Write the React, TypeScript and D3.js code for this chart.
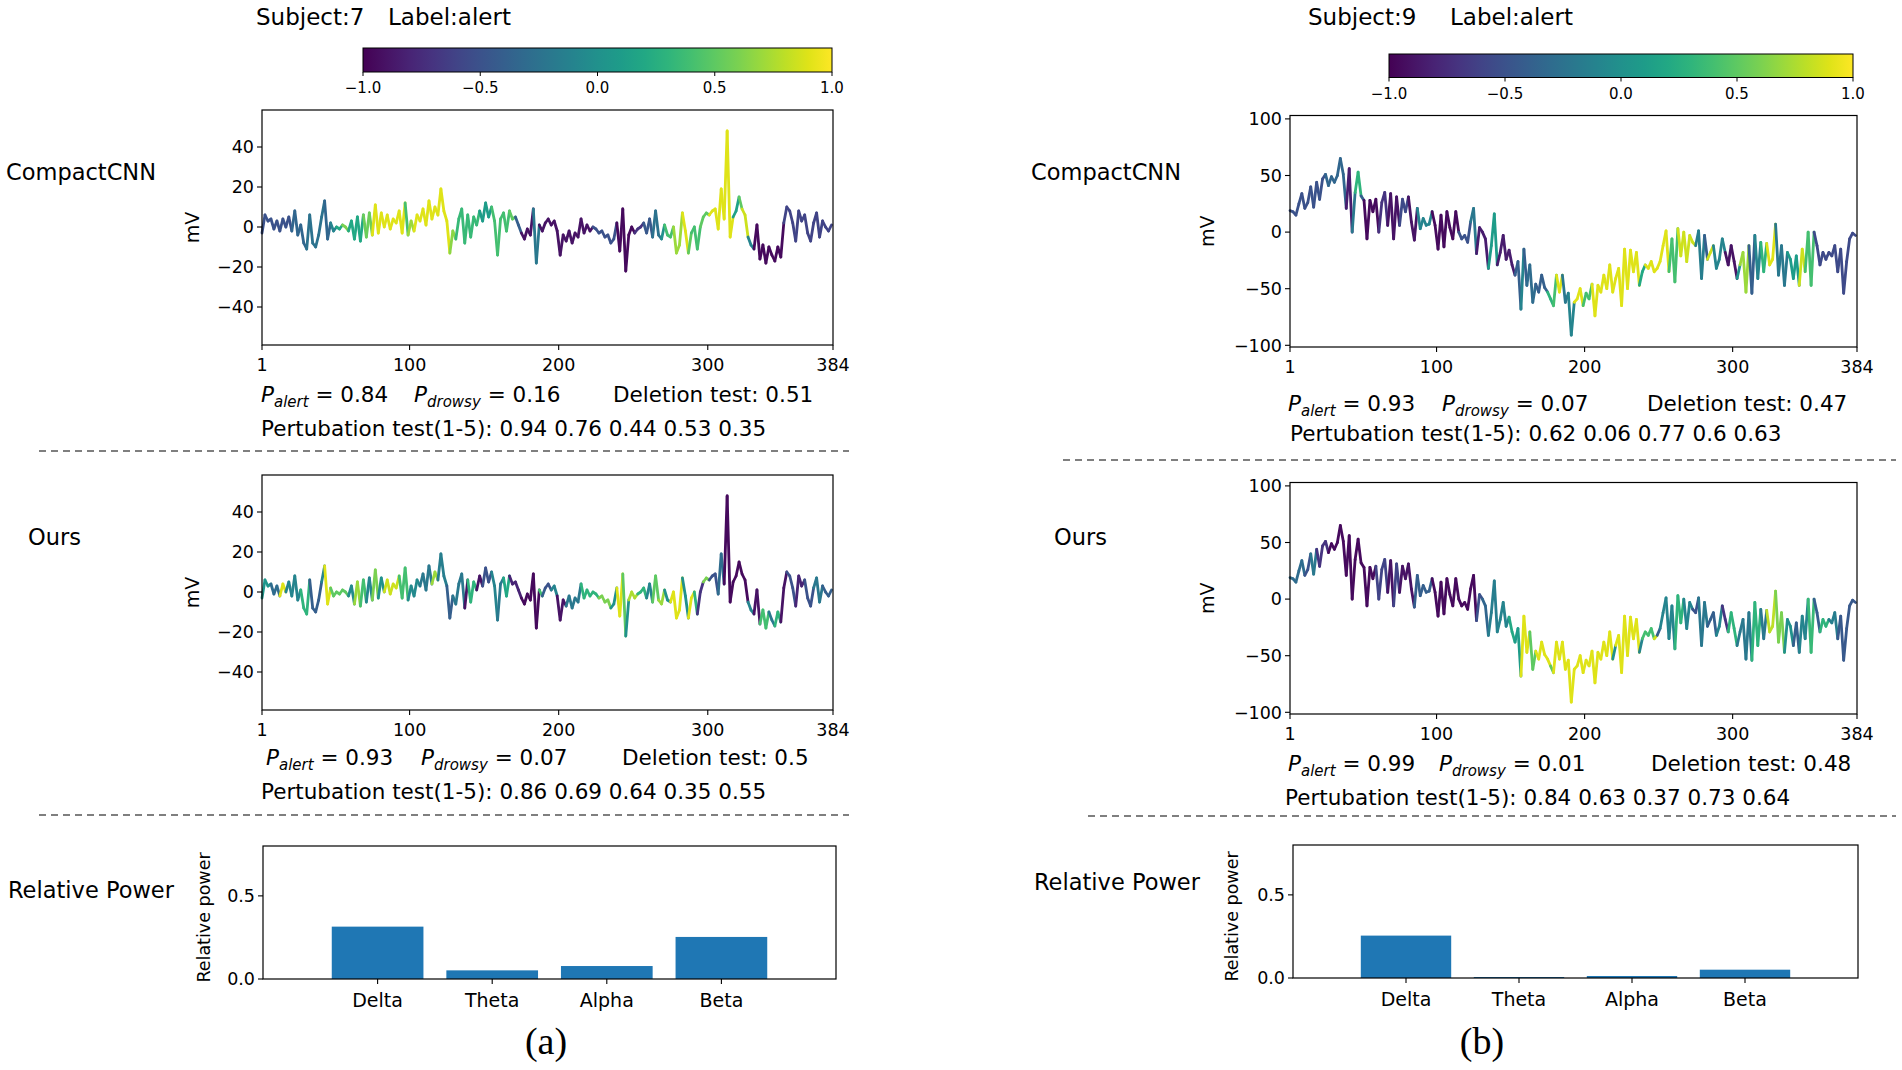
import React from 'react';
import * as d3 from 'd3';

// ---------------- DATA ----------------
const SAMPLE_STEP = 2; // signal read every 2nd sample (sample index = 1 + 2*i)
const X_DOMAIN = [1, 384];
const X_TICKS = [1, 100, 200, 300, 384];
const CBAR_TICKS = [-1, -0.5, 0, 0.5, 1];
const CBAR_LABELS = ['−1.0', '−0.5', '0.0', '0.5', '1.0'];
const BANDS = ['Delta', 'Theta', 'Alpha', 'Beta'];
const BAR_Y_TICKS = [0, 0.5];
const BAR_Y_LABELS = ['0.0', '0.5'];

const Y_TICKS_S7 = [-40, -20, 0, 20, 40];
const Y_LABELS_S7 = ['−40', '−20', '0', '20', '40'];
const Y_DOMAIN_S7 = [-59, 58.5];
const Y_TICKS_S9 = [-100, -50, 0, 50, 100];
const Y_LABELS_S9 = ['−100', '−50', '0', '50', '100'];
const Y_DOMAIN_S9 = [-101.5, 103];

const SIGNAL_S7 = [
  -3, 6, 3, 4, -1, 3, -2, 4, 0, 5,
  -2, 8, -4, 1, -8, -11, 6, -8, -10, -4,
  5, 13, -6, 2, -2, 0, -1, 1, 0, -2,
  3, -6, 5, -7, 6, -5, 7, -4, 11, -3,
  7, 0, 6, -1, 4, 2, 8, -3, 12, -4,
  3, -2, 6, 3, 9, 1, 13, 4, 10, 6,
  19, 8, 3, -13, -2, -6, 4, 9, -8, 6,
  -5, 5, 1, 8, 3, 12, 5, 10, 3, -14,
  4, 7, -2, 8, 4, 5, 1, -3, -6, -1,
  -4, 9, -18, 1, -2, 2, 4, 1, 3, -2,
  -14, -4, -7, -2, -8, -3, -5, 4, -3, 1,
  -2, 0, -1, -3, -2, -5, -4, -8, -6, 2,
  -12, 9, -22, -4, 0, -3, -1, 0, 2, -3,
  4, -5, 8, -4, -6, 1, -4, -5, 0, -13,
  -9, 7, -2, -13, -3, 0, -11, 0, 5, 7,
  6, 8, 9, -1, 19, 4, 48, -5, 5, 8,
  15, 9, 6, -5, -9, -11, 1, -16, -9, -18,
  -10, -14, -17, -10, -15, 2, 10, 8, 2, -7,
  8, 3, 6, -3, -7, 2, 7, -5, 3, 0,
  -2, 1,
];

const SIGNAL_S9 = [
  19, 18, 15, 25, 34, 21, 26, 40, 22, 44,
  29, 47, 51, 41, 49, 44, 50, 65, 51, 21,
  56, 0, 35, 53, 32, 28, -6, 28, 18, 29,
  0, 26, 35, 6, 34, -6, 31, 6, 29, 18,
  31, 9, -7, 21, 3, 12, 6, 7, 18, 6,
  -15, 15, -13, 18, 4, -6, 18, 0, -6, -3,
  -9, 9, 21, -19, 4, 0, -6, -32, -12, 16,
  -29, -18, -3, -24, -16, -29, -38, -26, -68, -15,
  -47, -29, -62, -46, -53, -38, -49, -53, -59, -65,
  -38, -53, -38, -62, -54, -91, -62, -59, -50, -65,
  -54, -59, -46, -74, -47, -53, -38, -50, -29, -53,
  -41, -32, -65, -15, -50, -16, -35, -18, -47, -35,
  -29, -32, -26, -35, -32, -26, -12, 1, -35, -6,
  -44, 3, -21, 0, -26, -3, -9, -12, 1, -41,
  -3, -24, -18, -12, -32, -24, -6, -18, -29, -12,
  -26, -41, -29, -18, -53, -12, -54, -3, -41, -9,
  -35, -10, -29, -24, 7, -38, -12, -47, -18, -24,
  -41, -21, -47, -15, -35, 0, -47, 0, -12, -29,
  -18, -24, -18, -21, -12, -35, -15, -54, -26, -6,
  -1, -3,
];

// attribution runs: [start index, value in -1..1]
const ATTR_CNN_S7 = [
  [0, -0.5], [10, -0.35], [15, -0.25], [21, -0.35], [23, -0.1], [25, 0.2], [27, 0.6], [29, 0.2],
  [34, 0.55], [37, 0.9], [48, 0.4], [49, 0.7], [51, 0.9], [63, 0.65], [65, 0.35], [73, 0.1],
  [77, 0.4], [83, 0.5], [85, -0.4], [87, -0.9], [91, -0.2], [93, -0.9], [111, -0.5], [119, -0.95],
  [125, -0.7], [128, -0.45], [131, -0.25], [134, 0.0], [135, 0.4], [138, 0.7], [141, 0.9], [143, 0.5],
  [144, 0.4], [147, 0.5], [150, 0.9], [158, 0.15], [160, 0.5], [161, 0.85], [163, -0.1], [165, -0.95],
  [175, -0.6],
];
const ATTR_OURS_S7 = [
  [0, 0.05], [3, -0.3], [6, 0.9], [8, -0.1], [13, 0.3], [16, -0.4], [20, -0.1], [21, 0.9], [23, 0.5],
  [29, -0.05], [31, 0.7], [33, 0.4], [35, -0.1], [37, 0.6], [39, 0.0], [41, 0.85], [46, 0.4], [49, -0.05],
  [53, -0.2], [57, 0.7], [59, -0.15], [62, -0.4], [64, -0.2], [68, -0.9], [69, 0.3], [72, -0.9], [74, -0.5],
  [77, -0.1], [79, -0.2], [81, 0.2], [83, -0.8], [87, -0.95], [93, 0.4], [94, -0.4], [95, -0.5], [97, -0.1],
  [99, -0.9], [102, -0.2], [107, 0.3], [113, 0.6], [117, 0.0], [119, 0.9], [121, 0.5], [122, 0.0], [123, 0.75],
  [126, 0.3], [129, -0.1], [131, 0.5], [133, 0.7], [135, 0.0], [137, 0.9], [141, 0.0], [143, 0.9], [145, 0.3],
  [146, -0.7], [148, 0.6], [150, -0.5], [153, -0.3], [155, -0.95], [163, -0.1], [165, -0.9], [167, 0.4],
  [170, -0.2], [172, 0.3], [174, -0.9], [176, -0.5], [179, -0.8], [182, -0.5], [185, -0.2], [188, -0.4],
];
const ATTR_CNN_S9 = [
  [0, -0.5], [12, -0.35], [19, -0.85], [21, -0.2], [22, 0.3], [24, -0.4], [25, -0.95], [30, -0.7], [33, -0.9],
  [37, -0.55], [40, -0.9], [43, -0.1], [48, -0.95], [57, -0.5], [61, -0.2], [63, -0.85], [67, 0.1], [70, -0.85],
  [76, -0.4], [78, -0.1], [79, -0.4], [80, -0.3], [83, -0.4], [87, 0.3], [89, 0.4], [90, 0.9], [92, -0.2],
  [94, -0.1], [96, 0.9], [99, 0.4], [102, 0.9], [118, 0.2], [120, 0.9], [128, 0.4], [131, 0.85], [137, -0.15],
  [140, -0.4], [141, 0.85], [143, -0.1], [147, -0.9], [151, 0.0], [152, 0.7], [155, -0.4], [157, -0.1],
  [159, 0.3], [161, 0.9], [164, -0.2], [168, 0.1], [172, 0.85], [174, 0.4], [177, -0.55],
];
const ATTR_OURS_S9 = [
  [0, -0.3], [5, -0.5], [7, -0.2], [9, -0.7], [13, -0.95], [29, -0.6], [33, -0.9], [35, -0.6], [37, -0.9],
  [42, -0.4], [48, -0.95], [63, -0.5], [65, -0.35], [67, -0.15], [70, -0.1], [74, 0.2], [76, 0.1], [78, 0.9],
  [81, 0.5], [83, 0.9], [88, 0.5], [89, 0.9], [109, 0.0], [110, 0.9], [118, -0.1], [119, 0.4], [123, 0.85],
  [124, -0.4], [125, -0.1], [130, 0.3], [133, -0.1], [136, -0.5], [138, -0.2], [141, -0.4], [144, -0.1],
  [146, -0.7], [148, 0.3], [151, -0.2], [156, 0.3], [159, -0.2], [161, 0.8], [164, 0.6], [167, 0.0],
  [170, -0.4], [172, -0.1], [175, 0.35], [177, -0.4], [179, 0.3], [182, -0.15], [185, -0.45],
];

const POWER_S7 = [0.315, 0.052, 0.078, 0.253];
const POWER_S9 = [0.255, 0.006, 0.012, 0.05];

const STATS_CNN_S7 = ['0.84', '0.16', '0.51'];
const PERTURB_CNN_S7 = ['0.94', '0.76', '0.44', '0.53', '0.35'];
const STATS_OURS_S7 = ['0.93', '0.07', '0.5'];
const PERTURB_OURS_S7 = ['0.86', '0.69', '0.64', '0.35', '0.55'];
const STATS_CNN_S9 = ['0.93', '0.07', '0.47'];
const PERTURB_CNN_S9 = ['0.62', '0.06', '0.77', '0.6', '0.63'];
const STATS_OURS_S9 = ['0.99', '0.01', '0.48'];
const PERTURB_OURS_S9 = ['0.84', '0.63', '0.37', '0.73', '0.64'];

// ---------------- DRAWING ----------------
const FONT = "'DejaVu Sans', 'Noto Sans', sans-serif";
const TICK_FS = 17.5;
const ROW_FS = 22.5;
const STAT_FS = 21.5;

const viridis = (v: number) => d3.interpolateViridis((v + 1) / 2);

function attrAt(runs: number[][], i: number) {
  let v = runs[0][1];
  for (const r of runs) {
    if (r[0] <= i) v = r[1];
    else break;
  }
  return v;
}

function Trace({ box, yDomain, yTicks, yLabels, signal, attr, mvX }: any) {
  const x = d3.scaleLinear().domain(X_DOMAIN).range([box.x0, box.x1]);
  const y = d3.scaleLinear().domain(yDomain).range([box.y1, box.y0]);
  const pts = signal.map((v: number, i: number) => [1 + SAMPLE_STEP * i, v]);
  const segs = [] as any[];
  for (let i = 0; i < pts.length - 1; i++) {
    segs.push(
      <line
        key={i}
        x1={x(pts[i][0])}
        y1={y(pts[i][1])}
        x2={x(pts[i + 1][0])}
        y2={y(pts[i + 1][1])}
        stroke={viridis(attrAt(attr, i))}
        strokeWidth={2.8}
        strokeLinecap="round"
      />
    );
  }
  return (
    <g>
      {segs}
      <rect x={box.x0} y={box.y0} width={box.x1 - box.x0} height={box.y1 - box.y0} fill="none" stroke="#000" strokeWidth={1.2} />
      {yTicks.map((t: number, k: number) => (
        <g key={'y' + t}>
          <line x1={box.x0 - 5} x2={box.x0} y1={y(t)} y2={y(t)} stroke="#000" strokeWidth={1.1} />
          <text x={box.x0 - 8} y={y(t) + 6.3} textAnchor="end" fontSize={TICK_FS} fontFamily={FONT}>{yLabels[k]}</text>
        </g>
      ))}
      {X_TICKS.map((t) => (
        <g key={'x' + t}>
          <line x1={x(t)} x2={x(t)} y1={box.y1} y2={box.y1 + 5} stroke="#000" strokeWidth={1.1} />
          <text x={x(t)} y={box.y1 + 26} textAnchor="middle" fontSize={TICK_FS} fontFamily={FONT}>{t}</text>
        </g>
      ))}
      <text
        transform={`translate(${mvX},${(box.y0 + box.y1) / 2}) rotate(-90)`}
        textAnchor="middle"
        dy="0.35em"
        fontSize={19}
        fontFamily={FONT}
      >mV</text>
    </g>
  );
}

function Colorbar({ x0, x1, y0, y1, id }: any) {
  const x = d3.scaleLinear().domain([-1, 1]).range([x0, x1]);
  const stops = d3.range(0, 1.0001, 0.05);
  return (
    <g>
      <defs>
        <linearGradient id={id} x1="0" x2="1" y1="0" y2="0">
          {stops.map((s) => (
            <stop key={s} offset={s} stopColor={d3.interpolateViridis(s)} />
          ))}
        </linearGradient>
      </defs>
      <rect x={x0} y={y0} width={x1 - x0} height={y1 - y0} fill={`url(#${id})`} stroke="#000" strokeWidth={1} />
      {CBAR_TICKS.map((t, k) => (
        <g key={t}>
          <line x1={x(t)} x2={x(t)} y1={y1} y2={y1 + 4} stroke="#000" strokeWidth={1} />
          <text x={x(t)} y={y1 + 21} textAnchor="middle" fontSize={15} fontFamily={FONT}>{CBAR_LABELS[k]}</text>
        </g>
      ))}
    </g>
  );
}

function Stats({ xs, y, stats, perturb, px, py }: any) {
  return (
    <g fontFamily={FONT} fontSize={STAT_FS}>
      <text x={xs[0]} y={y}>
        <tspan fontStyle="italic">P</tspan>
        <tspan fontStyle="italic" fontSize={15} dy={5}>alert</tspan>
        <tspan dy={-5}>{' = ' + stats[0]}</tspan>
      </text>
      <text x={xs[1]} y={y}>
        <tspan fontStyle="italic">P</tspan>
        <tspan fontStyle="italic" fontSize={15} dy={5}>drowsy</tspan>
        <tspan dy={-5}>{' = ' + stats[1]}</tspan>
      </text>
      <text x={xs[2]} y={y}>{'Deletion test: ' + stats[2]}</text>
      <text x={px} y={py}>{'Pertubation test(1-5): ' + perturb.join(' ')}</text>
    </g>
  );
}

function Bars({ box, values, ylabX }: any) {
  const x = d3.scaleLinear().domain([-1, 4]).range([box.x0, box.x1]);
  const y = d3.scaleLinear().domain([0, 0.8]).range([box.y1, box.y0]);
  const bw = x(0.8) - x(0);
  return (
    <g>
      {values.map((v: number, i: number) => (
        <rect key={i} x={x(i) - bw / 2} y={y(v)} width={bw} height={y(0) - y(v)} fill="#1f77b4" />
      ))}
      <rect x={box.x0} y={box.y0} width={box.x1 - box.x0} height={box.y1 - box.y0} fill="none" stroke="#000" strokeWidth={1.2} />
      {BAR_Y_TICKS.map((t, k) => (
        <g key={t}>
          <line x1={box.x0 - 5} x2={box.x0} y1={y(t)} y2={y(t)} stroke="#000" strokeWidth={1.1} />
          <text x={box.x0 - 8} y={y(t) + 6.3} textAnchor="end" fontSize={TICK_FS} fontFamily={FONT}>{BAR_Y_LABELS[k]}</text>
        </g>
      ))}
      {BANDS.map((b, i) => (
        <g key={b}>
          <line x1={x(i)} x2={x(i)} y1={box.y1} y2={box.y1 + 5} stroke="#000" strokeWidth={1.1} />
          <text x={x(i)} y={box.y1 + 28} textAnchor="middle" fontSize={19} fontFamily={FONT}>{b}</text>
        </g>
      ))}
      <text
        transform={`translate(${ylabX},${(box.y0 + box.y1) / 2 + 5}) rotate(-90)`}
        textAnchor="middle"
        dy="0.35em"
        fontSize={17.5}
        fontFamily={FONT}
      >Relative power</text>
    </g>
  );
}

function Dashed({ x0, x1, y }: any) {
  return <line x1={x0} x2={x1} y1={y} y2={y} stroke="#555" strokeWidth={1.5} strokeDasharray="7 5" />;
}

function RowLabel({ x, y, children }: any) {
  return <text x={x} y={y} fontSize={ROW_FS} fontFamily={FONT}>{children}</text>;
}

export default function App() {
  return (
    <svg width={1902} height={1070} style={{ position: 'absolute', left: 0, top: 0, background: '#fff' }}>
      <rect x={0} y={0} width={1902} height={1070} fill="#fff" />

      {/* ---------- Panel (a) ---------- */}
      <text x={256} y={25} fontSize={23} fontFamily={FONT}>Subject:7</text>
      <text x={388} y={25} fontSize={23} fontFamily={FONT}>Label:alert</text>
      <Colorbar id="cb1" x0={363} x1={832} y0={48} y1={72} />

      <RowLabel x={6} y={180}>CompactCNN</RowLabel>
      <Trace box={{ x0: 262, x1: 833, y0: 110, y1: 345 }} yDomain={Y_DOMAIN_S7} yTicks={Y_TICKS_S7} yLabels={Y_LABELS_S7}
        signal={SIGNAL_S7} attr={ATTR_CNN_S7} mvX={192} />
      <Stats xs={[261, 414, 613]} y={402} stats={STATS_CNN_S7} perturb={PERTURB_CNN_S7} px={261} py={436} />
      <Dashed x0={39} x1={849} y={451} />

      <RowLabel x={28} y={545}>Ours</RowLabel>
      <Trace box={{ x0: 262, x1: 833, y0: 475, y1: 710 }} yDomain={Y_DOMAIN_S7} yTicks={Y_TICKS_S7} yLabels={Y_LABELS_S7}
        signal={SIGNAL_S7} attr={ATTR_OURS_S7} mvX={192} />
      <Stats xs={[266, 421, 622]} y={765} stats={STATS_OURS_S7} perturb={PERTURB_OURS_S7} px={261} py={799} />
      <Dashed x0={39} x1={849} y={815} />

      <RowLabel x={8} y={898}>Relative Power</RowLabel>
      <Bars box={{ x0: 263, x1: 836, y0: 846, y1: 979 }} values={POWER_S7} ylabX={204} />
      <text x={546} y={1054} textAnchor="middle" fontSize={38} fontFamily="'Liberation Serif', 'DejaVu Serif', serif">(a)</text>

      {/* ---------- Panel (b) ---------- */}
      <text x={1308} y={25} fontSize={23} fontFamily={FONT}>Subject:9</text>
      <text x={1450} y={25} fontSize={23} fontFamily={FONT}>Label:alert</text>
      <Colorbar id="cb2" x0={1389} x1={1853} y0={54} y1={77.5} />

      <RowLabel x={1031} y={180}>CompactCNN</RowLabel>
      <Trace box={{ x0: 1290, x1: 1857, y0: 115.5, y1: 347 }} yDomain={Y_DOMAIN_S9} yTicks={Y_TICKS_S9} yLabels={Y_LABELS_S9}
        signal={SIGNAL_S9} attr={ATTR_CNN_S9} mvX={1207} />
      <Stats xs={[1288, 1442, 1647]} y={411} stats={STATS_CNN_S9} perturb={PERTURB_CNN_S9} px={1290} py={441} />
      <Dashed x0={1063} x1={1896} y={460} />

      <RowLabel x={1054} y={545}>Ours</RowLabel>
      <Trace box={{ x0: 1290, x1: 1857, y0: 482.5, y1: 714 }} yDomain={Y_DOMAIN_S9} yTicks={Y_TICKS_S9} yLabels={Y_LABELS_S9}
        signal={SIGNAL_S9} attr={ATTR_OURS_S9} mvX={1207} />
      <Stats xs={[1288, 1439, 1651]} y={771} stats={STATS_OURS_S9} perturb={PERTURB_OURS_S9} px={1285} py={805} />
      <Dashed x0={1088} x1={1896} y={816} />

      <RowLabel x={1034} y={890}>Relative Power</RowLabel>
      <Bars box={{ x0: 1293, x1: 1858, y0: 845, y1: 978 }} values={POWER_S9} ylabX={1232} />
      <text x={1482} y={1054} textAnchor="middle" fontSize={38} fontFamily="'Liberation Serif', 'DejaVu Serif', serif">(b)</text>
    </svg>
  );
}
